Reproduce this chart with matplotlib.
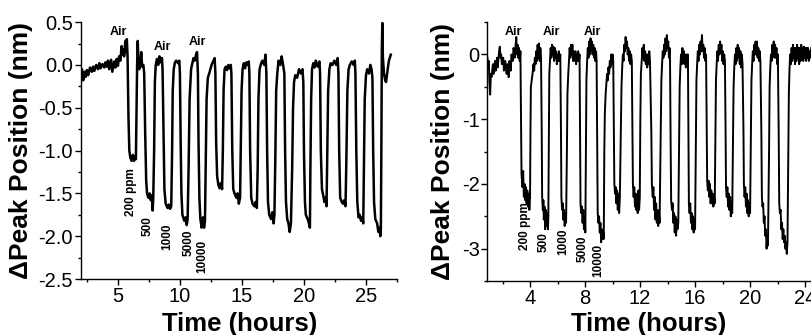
import matplotlib
matplotlib.use("Agg")
import matplotlib.pyplot as plt
from matplotlib.ticker import MultipleLocator, FormatStrFormatter

plt.rcParams['font.family'] = ['Liberation Sans', 'DejaVu Sans']
plt.rcParams['axes.unicode_minus'] = False

# ---------------- Left panel data ----------------
t_left = [2.0, 2.1, 2.2, 2.3, 2.4, 2.5, 2.6, 2.75, 2.9, 3.0, 3.1, 3.25, 3.4, 3.5, 3.6, 3.75, 3.9, 4.0, 4.1, 4.2,
          4.3, 4.45, 4.55, 4.7, 4.8, 4.9, 5.0, 5.1, 5.2, 5.3, 5.35, 5.45, 5.5, 5.6, 5.65, 5.72, 5.78,
          5.85, 5.92, 6.0, 6.1, 6.2, 6.3, 6.4, 6.45, 6.5, 6.55, 6.6, 6.65, 6.72, 6.8, 6.88, 6.95, 7.05, 7.12,
          7.2, 7.28, 7.35, 7.45, 7.55, 7.65, 7.75, 7.8, 7.85, 7.92, 7.98, 8.05, 8.15, 8.25, 8.35, 8.45, 8.55, 8.6,
          8.68, 8.75, 8.85, 9.0, 9.1, 9.2, 9.3, 9.37, 9.42, 9.5, 9.6, 9.7, 9.85, 9.95, 10.0,
          10.06, 10.12, 10.2, 10.35, 10.45, 10.55, 10.62, 10.7, 10.78, 10.9, 11.0, 11.1, 11.2, 11.3, 11.38, 11.45,
          11.5, 11.57, 11.65, 11.75, 11.85, 11.95, 12.02, 12.08, 12.15, 12.25, 12.4, 12.55, 12.7, 12.8, 12.86,
          12.92, 13.0, 13.1, 13.2, 13.3, 13.4, 13.46, 13.52, 13.6, 13.7, 13.8, 13.9, 14.0, 14.1, 14.15,
          14.22, 14.3, 14.4, 14.55, 14.65, 14.75, 14.85, 14.9, 14.97, 15.05, 15.15, 15.25, 15.35, 15.45, 15.55, 15.6,
          15.66, 15.75, 15.85, 16.0, 16.1, 16.2, 16.27, 16.33, 16.42, 16.55, 16.65, 16.8, 16.9, 16.97,
          17.03, 17.1, 17.2, 17.35, 17.45, 17.55, 17.62, 17.7, 17.76, 17.85, 17.95, 18.1, 18.2, 18.3, 18.42,
          18.48, 18.55, 18.65, 18.75, 18.85, 18.95, 19.05, 19.12, 19.2, 19.3, 19.45, 19.6, 19.75, 19.88, 19.95,
          20.0, 20.08, 20.15, 20.3, 20.4, 20.48, 20.52, 20.58, 20.65, 20.75, 20.85, 20.95, 21.1, 21.25, 21.3,
          21.36, 21.45, 21.55, 21.65, 21.75, 21.82, 21.88, 21.95, 22.05, 22.15, 22.3, 22.45, 22.6, 22.72, 22.78,
          22.84, 22.92, 23.05, 23.15, 23.25, 23.35, 23.42, 23.5, 23.6, 23.7, 23.85, 24.0, 24.1, 24.15,
          24.22, 24.3, 24.4, 24.5, 24.6, 24.7, 24.78, 24.84, 24.9, 25.0, 25.1, 25.25, 25.35, 25.45, 25.52,
          25.58, 25.65, 25.75, 25.9, 26.0, 26.1, 26.15, 26.2, 26.24, 26.28, 26.32, 26.36, 26.45, 26.55, 26.62,
          26.75, 26.85, 27.0]
y_left = [-0.15, -0.05, -0.18, -0.08, -0.14, -0.06, -0.12, -0.03, -0.08, -0.02, -0.07, 0.0, -0.05, 0.02, -0.04, 0.01, -0.03, 0.03, -0.02, 0.05,
          -0.05, 0.06, -0.08, 0.04, -0.03, 0.07, -0.01, 0.1, 0.05, 0.22, 0.12, 0.18, 0.1, 0.28, 0.15, 0.3, 0.1,
          -0.6, -1.0, -1.08, -1.12, -1.05, -1.12, -1.06, -1.1, -0.5, 0.0, 0.28, 0.05, -0.05, 0.0, 0.15, -0.02, 0.0, -0.1,
          -0.8, -1.35, -1.5, -1.55, -1.5, -1.58, -1.52, -1.7, -1.55, -1.0, -0.2, 0.0, 0.07, 0.0, 0.1, 0.03, 0.08, -0.05,
          -0.8, -1.45, -1.62, -1.67, -1.63, -1.68, -1.65, -1.0, -0.3, -0.05, 0.03, 0.05, 0.02, 0.05, -0.1,
          -0.9, -1.5, -1.75, -1.82, -1.78, -1.87, -1.8, -1.2, -0.4, -0.05, 0.02, 0.08, 0.05, 0.12, 0.15, -0.1,
          -0.9, -1.55, -1.8, -1.9, -1.78, -1.9, -1.82, -1.2, -0.4, -0.15, -0.08, 0.0, 0.05, 0.08, -0.1,
          -0.9, -1.3, -1.4, -1.44, -1.38, -1.45, -1.0, -0.3, -0.05, -0.02, -0.06, 0.0, -0.04, 0.0, -0.1,
          -1.0, -1.45, -1.5, -1.55, -1.5, -1.62, -1.55, -1.0, -0.3, -0.05, 0.02, -0.04, 0.03, 0.0, 0.04, -0.1,
          -1.0, -1.55, -1.62, -1.65, -1.6, -1.67, -1.2, -0.4, -0.05, 0.02, 0.05, 0.0, 0.12, -0.1,
          -1.0, -1.6, -1.75, -1.8, -1.72, -1.85, -1.75, -1.0, -0.3, -0.1, 0.05, 0.0, 0.1, 0.02, -0.1,
          -1.0, -1.6, -1.8, -1.85, -1.95, -1.85, -1.2, -0.5, -0.2, -0.12, -0.15, -0.05, -0.1, -0.05, -0.2,
          -1.0, -1.6, -1.75, -1.8, -1.85, -1.9, -1.2, -0.4, -0.05, 0.02, -0.03, 0.05, -0.02, 0.04, -0.1,
          -1.0, -1.45, -1.52, -1.6, -1.55, -1.65, -1.0, -0.3, -0.05, 0.02, 0.0, 0.05, 0.0, 0.08, -0.1,
          -1.0, -1.55, -1.6, -1.62, -1.58, -1.65, -1.1, -0.3, -0.05, 0.0, 0.04, 0.0, 0.05, -0.1,
          -1.0, -1.6, -1.78, -1.75, -1.82, -1.78, -1.85, -1.1, -0.4, -0.12, -0.05, -0.1, 0.0, -0.05, -0.15,
          -1.0, -1.6, -1.8, -1.85, -1.95, -1.9, -2.0, -1.92, -1.0, 0.2, 0.49, 0.1, -0.1, -0.18, -0.2,
          -0.05, 0.05, 0.12]

# ---------------- Right panel data ----------------
t_right = [0.9, 0.95, 1.0, 1.05, 1.1, 1.15, 1.2, 1.3, 1.35, 1.45, 1.5, 1.6, 1.65, 1.75, 1.8, 1.85, 1.9, 1.95, 2.05, 2.1,
           2.2, 2.3, 2.35, 2.45, 2.5, 2.6, 2.65, 2.75, 2.8, 2.9, 2.95, 3.0, 3.05, 3.1, 3.15, 3.2, 3.25, 3.3,
           3.34, 3.38, 3.45, 3.5, 3.55, 3.6, 3.65, 3.7, 3.75, 3.8, 3.85, 3.9, 3.95, 4.0,
           4.03, 4.06, 4.12, 4.18, 4.25, 4.3, 4.35, 4.4, 4.45, 4.5, 4.55, 4.6, 4.65, 4.7, 4.75, 4.8,
           4.85, 4.88, 4.93, 4.97, 5.0, 5.05, 5.1, 5.15, 5.2, 5.25, 5.3, 5.33,
           5.37, 5.4, 5.45, 5.5, 5.55, 5.6, 5.65, 5.7, 5.75, 5.8, 5.85, 5.9, 5.95, 6.0, 6.05, 6.1, 6.15, 6.2,
           6.25, 6.28, 6.33, 6.38, 6.42, 6.47, 6.52, 6.57, 6.62,
           6.68, 6.72, 6.78, 6.83, 6.88, 6.93, 6.98, 7.03, 7.08, 7.13, 7.18, 7.23, 7.3, 7.35, 7.4, 7.45, 7.5, 7.55, 7.6,
           7.64, 7.67, 7.72, 7.77, 7.82, 7.87, 7.92, 7.97, 8.02,
           8.06, 8.1, 8.15, 8.2, 8.25, 8.3, 8.35, 8.4, 8.45, 8.5, 8.55, 8.6, 8.65, 8.7, 8.75, 8.8, 8.84,
           8.88, 8.92, 8.97, 9.02, 9.07, 9.12, 9.17, 9.22, 9.27, 9.32, 9.36,
           9.4, 9.44, 9.5, 9.55, 9.6, 9.65, 9.7, 9.75, 9.8, 9.85, 9.9, 9.95, 10.0, 10.05,
           10.1, 10.13, 10.18, 10.23, 10.28, 10.33, 10.38, 10.43, 10.48, 10.53,
           10.6, 10.65, 10.7, 10.75, 10.8, 10.85, 10.9, 10.95, 11.0, 11.05, 11.1, 11.15, 11.2, 11.25, 11.3, 11.35, 11.4,
           11.45, 11.48, 11.53, 11.58, 11.63, 11.68, 11.73, 11.78, 11.83, 11.88, 11.93, 11.98,
           12.02, 12.06, 12.12, 12.17, 12.22, 12.27, 12.32, 12.37, 12.42, 12.47, 12.52, 12.57, 12.62, 12.67, 12.72,
           12.82, 12.86, 12.92, 12.97, 13.02, 13.07, 13.12, 13.17, 13.22, 13.27, 13.32, 13.37, 13.42,
           13.5, 13.55, 13.6, 13.65, 13.7, 13.75, 13.8, 13.85, 13.9, 13.95, 14.0, 14.05, 14.1, 14.15, 14.18,
           14.22, 14.26, 14.32, 14.37, 14.42, 14.47, 14.52, 14.57, 14.62, 14.67, 14.72, 14.78,
           14.84, 14.88, 14.93, 14.98, 15.03, 15.08, 15.13, 15.18, 15.23, 15.28, 15.33, 15.38, 15.43, 15.48,
           15.52, 15.55, 15.6, 15.65, 15.7, 15.75, 15.8, 15.85, 15.9, 15.95, 16.0,
           16.06, 16.1, 16.15, 16.2, 16.25, 16.3, 16.35, 16.4, 16.45, 16.5, 16.55, 16.6, 16.65, 16.7, 16.75, 16.8,
           16.85, 16.88, 16.93, 16.98, 17.03, 17.08, 17.13, 17.18, 17.23, 17.28, 17.33, 17.38, 17.43,
           17.48, 17.52, 17.57, 17.62, 17.67, 17.72, 17.77, 17.82, 17.87, 17.92, 17.97, 18.02, 18.07, 18.12, 18.17,
           18.22, 18.25, 18.3, 18.35, 18.4, 18.45, 18.5, 18.55, 18.6, 18.65, 18.7,
           18.76, 18.8, 18.85, 18.9, 18.95, 19.0, 19.05, 19.1, 19.15, 19.2, 19.25, 19.3, 19.35, 19.4, 19.45,
           19.52, 19.55, 19.6, 19.65, 19.7, 19.75, 19.8, 19.85, 19.9, 19.95, 20.0,
           20.06, 20.1, 20.15, 20.2, 20.25, 20.3, 20.35, 20.4, 20.45, 20.5, 20.55, 20.6, 20.65, 20.7, 20.75,
           20.82, 20.86, 20.9, 20.95, 21.0, 21.05, 21.1, 21.15, 21.2, 21.25, 21.3,
           21.38, 21.42, 21.47, 21.52, 21.57, 21.62, 21.67, 21.72, 21.77, 21.82, 21.87, 21.92, 21.97, 22.02,
           22.08, 22.12, 22.17, 22.22, 22.27, 22.32, 22.37, 22.42, 22.47, 22.52, 22.57, 22.62, 22.67, 22.72,
           22.78, 22.82, 22.87, 22.92, 22.97, 23.02, 23.07, 23.12, 23.17, 23.22, 23.27, 23.32, 23.37, 23.42, 23.47,
           23.52, 23.57, 23.62, 23.67, 23.72, 23.77, 23.82, 23.87, 23.92, 23.97, 24.02, 24.07, 24.12, 24.17, 24.22,
           24.27, 24.32, 24.37, 24.45]
y_right = [-0.05, -0.2, -0.1, -0.45, -0.62, -0.3, -0.35, -0.15, -0.3, -0.1, -0.25, -0.05, -0.2, 0.05, 0.12, -0.05, 0.0, -0.15, -0.05, -0.25,
           -0.1, -0.3, -0.15, -0.35, -0.1, -0.25, 0.0, -0.1, 0.1, -0.05, 0.15, 0.27, 0.0, 0.15, -0.05, 0.1, -0.1, 0.05,
           -1.0, -1.85, -2.05, -1.8, -2.2, -2.0, -2.25, -2.05, -2.3, -2.1, -2.35, -2.15, -2.4, -2.2,
           -1.2, -0.5, -0.4, -0.3, -0.15, -0.25, -0.05, -0.15, 0.05, -0.1, 0.15, -0.05, 0.17, -0.1, 0.1, -0.05,
           -1.2, -2.2, -2.4, -2.25, -2.55, -2.35, -2.7, -2.4, -2.65, -2.45, -2.7, -2.5,
           -1.2, -0.3, -0.1, 0.1, -0.05, 0.15, 0.0, 0.12, -0.1, 0.1, -0.05, 0.05, -0.15, 0.0, -0.1, 0.05, -0.1, 0.0,
           -1.2, -2.2, -2.4, -2.3, -2.55, -2.4, -2.65, -2.45, -2.6,
           -1.5, -0.6, -0.3, -0.1, 0.1, -0.05, 0.15, 0.0, 0.15, -0.1, 0.05, -0.1, 0.05, -0.15, 0.0, -0.1, 0.05, -0.1, 0.0,
           -1.2, -2.3, -2.45, -2.35, -2.6, -2.4, -2.7, -2.5, -2.75,
           -1.5, -0.4, -0.1, 0.1, -0.05, 0.2, 0.0, 0.25, 0.05, 0.2, 0.0, 0.15, -0.05, 0.1, -0.1, 0.05, -0.1,
           -1.3, -2.45, -2.6, -2.5, -2.75, -2.6, -2.9, -2.7, -2.85, -2.75, -2.85,
           -1.5, -0.9, -0.6, -0.45, -0.3, -0.4, -0.2, -0.3, -0.1, -0.2, 0.0, -0.15, 0.0, -0.1,
           -1.2, -2.0, -2.15, -2.05, -2.3, -2.1, -2.4, -2.15, -2.45, -2.2,
           -1.2, -0.5, -0.2, 0.0, -0.1, 0.15, 0.05, 0.27, 0.1, 0.2, 0.0, 0.1, -0.1, 0.05, -0.15, 0.0, -0.1,
           -1.2, -2.0, -2.2, -2.05, -2.35, -2.15, -2.4, -2.2, -2.45, -2.1, -2.4, -2.2,
           -1.0, -0.3, -0.1, 0.1, -0.05, 0.15, -0.1, 0.05, -0.15, 0.0, -0.2, 0.0, -0.15, 0.05, -0.1,
           -1.2, -2.0, -2.2, -2.05, -2.4, -2.2, -2.55, -2.3, -2.6, -2.4, -2.65, -2.45, -2.6,
           -1.2, -0.4, -0.15, 0.05, -0.05, 0.15, 0.0, 0.25, 0.05, 0.3, 0.1, 0.2, -0.05, 0.1, -0.1,
           -1.3, -2.25, -2.4, -2.3, -2.6, -2.45, -2.75, -2.5, -2.8, -2.55, -2.7, -2.6,
           -1.3, -0.5, -0.2, 0.0, -0.15, 0.1, -0.1, 0.05, -0.15, 0.0, -0.2, 0.0, -0.15, 0.0,
           -1.2, -2.3, -2.45, -2.3, -2.6, -2.45, -2.7, -2.5, -2.75, -2.55, -2.7,
           -1.2, -0.4, -0.15, 0.05, -0.1, 0.15, 0.0, 0.2, 0.05, 0.3, 0.05, 0.15, -0.05, 0.1, -0.1, 0.0,
           -1.2, -1.95, -2.1, -1.95, -2.2, -2.0, -2.3, -2.1, -2.3, -2.15, -2.35, -2.2, -2.3,
           -1.2, -0.4, -0.15, 0.05, -0.1, 0.15, 0.0, 0.2, 0.05, 0.15, -0.1, 0.05, -0.15, 0.0, -0.1,
           -1.2, -2.05, -2.2, -2.05, -2.35, -2.15, -2.4, -2.2, -2.5, -2.3, -2.45,
           -1.2, -0.5, -0.2, 0.0, -0.15, 0.1, -0.1, 0.15, -0.05, 0.1, -0.15, 0.05, -0.2, 0.0, -0.15,
           -1.2, -2.0, -2.2, -2.05, -2.35, -2.15, -2.45, -2.25, -2.5, -2.3, -2.45,
           -1.2, -0.4, -0.15, 0.05, -0.1, 0.15, 0.0, 0.2, 0.0, 0.2, -0.05, 0.1, -0.1, 0.05, -0.1,
           -1.2, -2.2, -2.35, -2.3, -2.6, -2.5, -2.8, -2.7, -3.0, -2.8, -2.95,
           -1.5, -0.5, -0.2, 0.0, -0.1, 0.15, 0.0, 0.2, -0.05, 0.15, -0.05, 0.1, -0.15, 0.0,
           -1.2, -2.3, -2.45, -2.4, -2.7, -2.6, -2.85, -2.7, -2.9, -2.8, -3.0, -2.9, -3.08, -2.9,
           -1.5, -0.6, -0.2, 0.0, -0.15, 0.1, -0.1, 0.15, -0.05, 0.1, -0.15, 0.1, -0.1, 0.15, -0.05,
           0.1, -0.15, 0.1, -0.1, 0.15, -0.05, 0.1, -0.1, 0.12, -0.05, 0.1, -0.1, 0.1, -0.05, 0.1,
           -0.1, 0.05, -0.05, 0.1]

# ---------------- Annotations ----------------
air_left_x = [5.06, 8.6, 11.4]
air_left_y = [0.38, 0.21, 0.27]
conc_labels = ["200 ppm", "500", "1000", "5000", "10000"]
conc_left_x = [6.05, 7.4, 9.0, 10.7, 11.8]
conc_left_y = [-1.48, -1.88, -2.01, -2.08, -2.24]

air_right_x = [2.79, 5.58, 8.56]
air_right_y = [0.35, 0.35, 0.35]
conc_right_x = [3.64, 4.97, 6.42, 7.83, 8.97]
conc_right_y = [-2.65, -2.9, -2.9, -3.0, -3.18]

fig = plt.figure(figsize=(8.11, 3.35), dpi=100)
axL = fig.add_axes([0.0995, 0.167, 0.39, 0.767])
axR = fig.add_axes([0.601, 0.161, 0.399, 0.773])

axL.plot(t_left, y_left, color='black', lw=1.8)
axR.plot(t_right, y_right, color='black', lw=1.4)

axL.set_xlim(2, 27.5)
axL.set_ylim(-2.5, 0.5)
axL.xaxis.set_major_locator(MultipleLocator(5))
axL.xaxis.set_minor_locator(MultipleLocator(2.5))
axL.yaxis.set_major_locator(MultipleLocator(0.5))
axL.yaxis.set_minor_locator(MultipleLocator(0.25))

axR.set_xlim(0.9, 24.43)
axR.set_ylim(-3.5, 0.5)
axR.xaxis.set_major_locator(MultipleLocator(4))
axR.xaxis.set_minor_locator(MultipleLocator(2))
axR.yaxis.set_major_locator(MultipleLocator(1))
axR.yaxis.set_minor_locator(MultipleLocator(0.5))

for ax in (axL, axR):
    ax.spines['top'].set_visible(False)
    ax.spines['right'].set_visible(False)
    ax.spines['left'].set_linewidth(1.0)
    ax.spines['bottom'].set_linewidth(1.0)
    ax.tick_params(which='major', direction='out', length=4, width=1.0, labelsize=14.5, pad=1.5)
    ax.tick_params(which='minor', direction='out', length=2.5, width=1.0)
    ax.set_xlabel('Time (hours)', fontsize=18.5, fontweight='bold')
    ax.set_ylabel('ΔPeak Position (nm)', fontsize=19, fontweight='bold')

axL.yaxis.set_major_formatter(FormatStrFormatter('%.1f'))
axL.xaxis.set_label_coords(0.502, -0.128)
axL.yaxis.set_label_coords(-0.151, 0.5)
axR.xaxis.set_label_coords(0.498, -0.12)
axR.yaxis.set_label_coords(-0.1, 0.5)

for x, y in zip(air_left_x, air_left_y):
    axL.text(x, y, "Air", fontsize=9, fontweight='bold', ha='center', va='center')
for lab, x, y in zip(conc_labels, conc_left_x, conc_left_y):
    axL.text(x, y, lab, fontsize=8.5, fontweight='bold', ha='center', va='center', rotation=90)

for x, y in zip(air_right_x, air_right_y):
    axR.text(x, y, "Air", fontsize=9, fontweight='bold', ha='center', va='center')
for lab, x, y in zip(conc_labels, conc_right_x, conc_right_y):
    axR.text(x, y, lab, fontsize=8.5, fontweight='bold', ha='center', va='center', rotation=90)

fig.savefig('out.png', dpi=100)
